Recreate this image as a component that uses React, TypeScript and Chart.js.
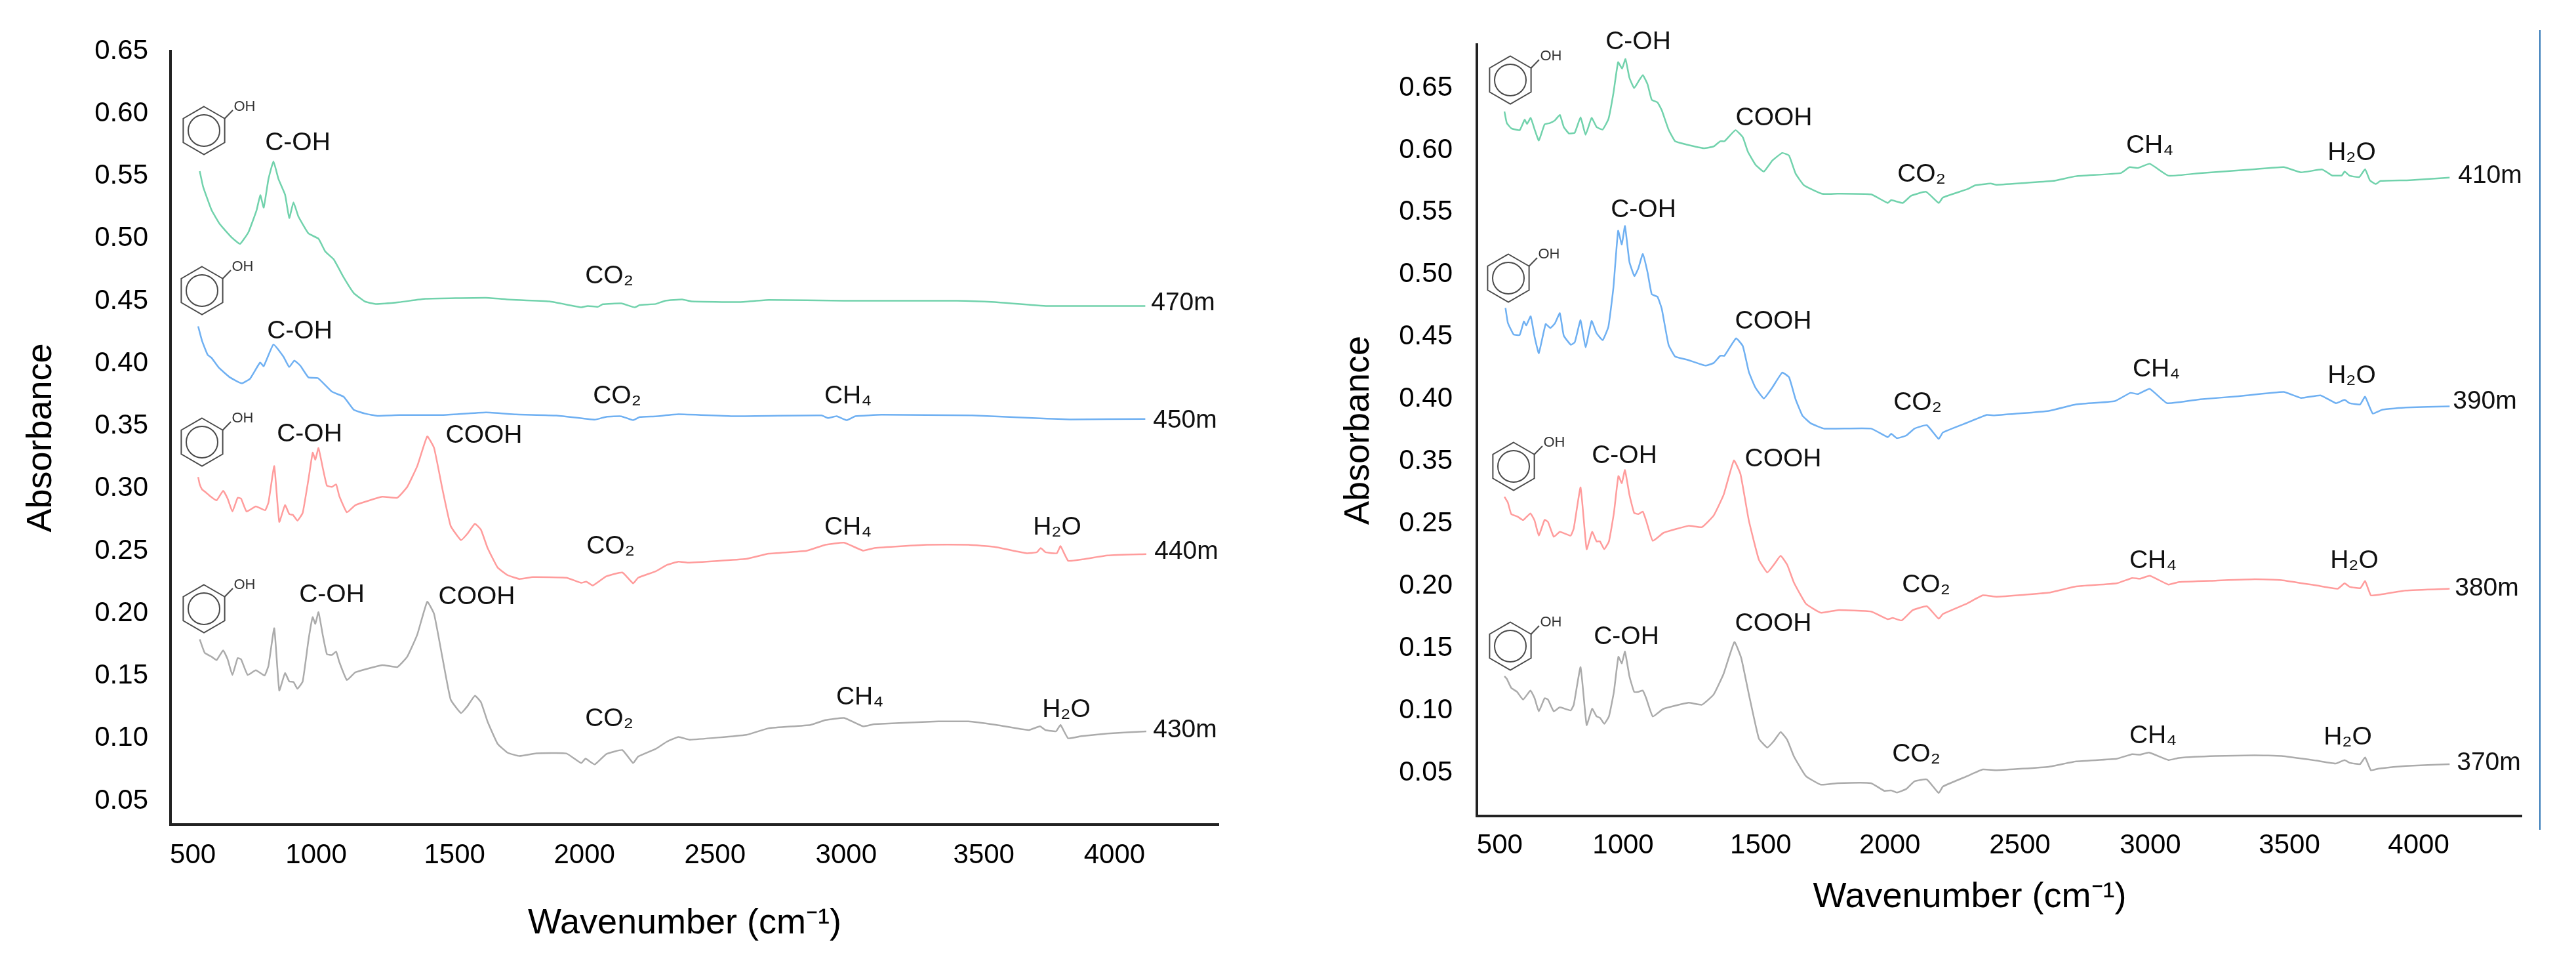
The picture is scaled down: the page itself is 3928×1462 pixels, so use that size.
import React, { useEffect, useRef } from "react";
import { Chart, registerables } from "chart.js";

Chart.register(...registerables);

const FONT = '"Liberation Sans", Arial, sans-serif';
const GREEN = "#71D2AC";
const BLUE = "#6FB0F2";
const RED = "#FF9C9C";
const GRAY = "#ABABAB";

// ---------- Left panel: wavenumber and absorbance ----------
const wn470 = [526,539,571,603,647,679,711,742,756,769,787,806,825,850,866,882,901,939,977,1003,1035,1073,1111,1155,1194,1283,1384,1613,1702,1854,1975,2000,2038,2057,2127,2178,2197,2258,2294,2358,2394,2573,2687,2973,3402,3545,3745,4117];
const abs470 = [.5523,.5398,.5212,.5098,.4994,.4942,.5035,.5212,.5332,.5232,.5461,.5602,.5461,.5336,.5149,.5274,.5160,.5025,.4983,.4880,.4817,.4672,.4548,.4479,.4461,.4475,.4502,.4510,.4496,.4481,.4434,.4445,.4438,.4459,.4465,.4434,.4452,.4461,.4487,.4497,.4481,.4476,.4493,.4487,.4487,.4476,.4445,.4445];

const wn450 = [520,535,556,571,599,641,685,717,755,769,806,844,866,885,908,939,975,1028,1073,1111,1155,1200,1283,1448,1613,1727,1880,2026,2070,2127,2172,2197,2258,2344,2544,2887,2912,2945,2983,3016,3116,3459,3688,3831,4117];
const abs450 = [.4282,.4164,.4054,.4029,.3950,.3873,.3826,.3863,.3992,.3963,.4137,.4039,.3956,.4008,.3967,.3873,.3867,.3759,.3718,.3614,.3583,.3566,.3572,.3572,.3593,.3577,.3568,.3535,.3558,.3562,.3531,.3556,.3562,.3578,.3563,.3569,.3548,.3563,.3531,.3563,.3574,.3569,.3548,.3537,.3541];

const wn440 = [520,526,535,548,565,590,615,632,650,670,683,704,739,774,787,809,828,850,866,880,897,917,939,955,965,977,993,1009,1028,1044,1056,1085,1117,1219,1276,1314,1352,1390,1416,1448,1479,1518,1543,1571,1594,1619,1657,1695,1740,1791,1918,1975,1994,2019,2070,2131,2172,2191,2258,2301,2344,2380,2602,2687,2830,2902,2973,3045,3088,3288,3445,3545,3667,3705,3720,3738,3781,3795,3824,3874,3974,4121];
const abs440 = [.3076,.3017,.2976,.2955,.2924,.2889,.2966,.2903,.2800,.2910,.2903,.2800,.2841,.2810,.2872,.3163,.2717,.2851,.2779,.2773,.2727,.2789,.3059,.3271,.3215,.3308,.3152,.3007,.2997,.3017,.2924,.2793,.2851,.2918,.2910,.2997,.3163,.3401,.3308,.2976,.2685,.2571,.2623,.2702,.2654,.2509,.2353,.2291,.2260,.2275,.2270,.2229,.2239,.2208,.2281,.2312,.2225,.2270,.2322,.2373,.2399,.2391,.2421,.2463,.2485,.2534,.2551,.2487,.2508,.2534,.2534,.2517,.2466,.2474,.2508,.2474,.2466,.2523,.2406,.2416,.2448,.2459];

const wn430 = [526,545,571,590,615,632,650,670,683,708,739,772,787,809,828,850,866,882,897,917,939,955,965,977,993,1009,1028,1044,1056,1085,1117,1219,1276,1314,1352,1390,1416,1448,1479,1518,1543,1571,1594,1619,1657,1695,1740,1804,1918,1975,1991,2026,2070,2131,2172,2191,2258,2301,2344,2387,2602,2687,2845,2902,2973,3045,3088,3331,3445,3545,3674,3717,3738,3778,3795,3824,3874,3974,4121];
const abs430 = [.1777,.1669,.1638,.1611,.1689,.1617,.1492,.1627,.1617,.1492,.1530,.1488,.1565,.1866,.1368,.1507,.1440,.1436,.1382,.1440,.1772,.1955,.1901,.1995,.1814,.1658,.1652,.1679,.1596,.1451,.1513,.1571,.1555,.1638,.1814,.2078,.1980,.1627,.1295,.1187,.1243,.1326,.1274,.1119,.0942,.0870,.0843,.0864,.0864,.0787,.0822,.0776,.0859,.0891,.0787,.0839,.0901,.0959,.0996,.0974,.1013,.1066,.1092,.1131,.1148,.1081,.1098,.1120,.1120,.1094,.1051,.1081,.1051,.1041,.1092,.0985,.1002,.1023,.1041];

// ---------- Right panel ----------
const wn410 = [518,527,544,576,595,604,618,633,649,671,691,710,729,744,764,786,808,827,850,869,892,914,933,951,966,979,994,1012,1028,1045,1063,1079,1101,1117,1143,1168,1213,1277,1315,1340,1356,1398,1426,1445,1474,1506,1538,1576,1602,1627,1659,1729,1787,1914,1978,1991,2035,2067,2124,2172,2188,2281,2311,2370,2392,2606,2695,2865,2899,2931,2976,3047,3168,3375,3486,3552,3633,3670,3707,3718,3737,3774,3796,3814,3836,3855,3966,4118];
const abs410 = [.6295,.6202,.6160,.6145,.6229,.6195,.6243,.6150,.6062,.6191,.6202,.6223,.6268,.6170,.6118,.6125,.6248,.6108,.6243,.6170,.6150,.6233,.6441,.6691,.6639,.6716,.6566,.6483,.6535,.6587,.6514,.6389,.6368,.6306,.6150,.6056,.6029,.6000,.6014,.6056,.6056,.6145,.6087,.5973,.5868,.5812,.5900,.5962,.5941,.5796,.5702,.5633,.5635,.5629,.5560,.5583,.5560,.5618,.5650,.5560,.5604,.5671,.5702,.5716,.5706,.5737,.5775,.5800,.5848,.5841,.5875,.5779,.5800,.5831,.5848,.5806,.5829,.5781,.5781,.5812,.5779,.5768,.5831,.5743,.5712,.5737,.5743,.5764];

const wn390 = [522,531,553,576,592,601,618,633,649,675,693,710,729,744,771,786,808,827,850,869,892,914,933,951,965,977,994,1013,1028,1045,1063,1079,1101,1117,1143,1168,1213,1283,1315,1340,1356,1400,1426,1449,1474,1506,1538,1576,1602,1627,1653,1685,1736,1914,1978,1991,2013,2048,2080,2127,2172,2188,2281,2355,2384,2591,2695,2843,2902,2931,2976,3042,3168,3316,3486,3552,3626,3685,3718,3737,3777,3796,3825,3862,3951,4118];
const abs390 = [.4717,.4598,.4504,.4500,.4608,.4577,.4650,.4483,.4354,.4587,.4556,.4592,.4675,.4494,.4421,.4442,.4619,.4400,.4612,.4514,.4458,.4567,.4879,.5337,.5227,.5375,.5087,.4973,.5035,.5150,.5004,.4827,.4806,.4712,.4421,.4327,.4302,.4254,.4275,.4333,.4333,.4473,.4410,.4202,.4077,.3990,.4077,.4198,.4160,.3983,.3852,.3790,.3748,.3748,.3679,.3706,.3671,.3692,.3748,.3775,.3665,.3717,.3796,.3858,.3854,.3890,.3942,.3969,.4035,.4025,.4067,.3952,.3983,.4008,.4042,.3994,.4015,.3952,.3979,.3952,.3942,.4004,.3869,.3900,.3917,.3927];

const wn380 = [518,531,544,569,589,617,633,649,671,684,706,729,770,782,808,831,852,869,882,898,916,935,952,965,977,994,1012,1028,1045,1058,1083,1124,1219,1270,1315,1353,1392,1417,1449,1487,1519,1544,1570,1595,1621,1666,1723,1787,1914,1978,1997,2031,2073,2127,2172,2188,2281,2340,2392,2591,2695,2850,2909,2939,2976,3047,3087,3227,3375,3478,3611,3692,3718,3737,3778,3796,3818,3848,3951,4118];
const abs380 = [.2900,.2808,.2622,.2580,.2526,.2634,.2516,.2388,.2530,.2498,.2379,.2419,.2388,.2446,.3050,.2279,.2419,.2342,.2342,.2279,.2342,.2642,.3234,.3120,.3330,.2934,.2642,.2622,.2662,.2516,.2346,.2411,.2467,.2456,.2600,.2934,.3484,.3266,.2516,.2196,.2092,.2154,.2227,.2154,.2009,.1842,.1769,.1790,.1779,.1717,.1727,.1707,.1790,.1821,.1721,.1759,.1844,.1909,.1898,.1930,.1980,.2005,.2048,.2042,.2066,.1995,.2016,.2027,.2038,.2031,.1988,.1962,.2005,.1977,.1967,.2023,.1909,.1913,.1947,.1962];

const wn370 = [518,527,544,566,589,617,633,649,671,684,706,729,770,782,808,831,852,869,882,898,916,935,952,965,977,994,1012,1028,1045,1058,1083,1124,1219,1270,1315,1353,1394,1420,1449,1487,1519,1544,1570,1595,1621,1666,1723,1787,1914,1965,1991,2013,2048,2080,2127,2172,2188,2281,2340,2392,2591,2695,2850,2909,2939,2973,3047,3087,3227,3375,3478,3611,3685,3718,3737,3777,3796,3818,3848,3951,4118];
const abs370 = [.1259,.1238,.1165,.1134,.1071,.1144,.1082,.0977,.1082,.1071,.0977,.1009,.0984,.1030,.1332,.0867,.0998,.0936,.0925,.0877,.0936,.1134,.1415,.1363,.1457,.1259,.1134,.1134,.1144,.1082,.0936,.0998,.1046,.1030,.1113,.1280,.1534,.1404,.1113,.0759,.0686,.0738,.0811,.0748,.0613,.0457,.0388,.0400,.0400,.0338,.0342,.0325,.0353,.0415,.0430,.0321,.0373,.0457,.0510,.0504,.0532,.0575,.0596,.0633,.0629,.0646,.0586,.0603,.0618,.0624,.0618,.0581,.0558,.0586,.0564,.0553,.0607,.0504,.0517,.0538,.0553];

// ---------- Tick labels ----------
const xTickLabels = ["500", "1000", "1500", "2000", "2500", "3000", "3500", "4000"];
// The hand-placed wavenumber labels are not evenly spaced in the source figure.
const xTickAtLeft = [500, 968, 1494, 1987, 2483, 2981, 3504, 4000];
const xTickAtRight = [500, 970, 1494, 1986, 2481, 2978, 3508, 4000];
const yTicksLeft = [.05,.10,.15,.20,.25,.30,.35,.40,.45,.50,.55,.60,.65];
// The right panel's printed axis has no 0.30: 0.25 is followed directly by 0.35.
const yTicksRight = [.05,.10,.15,.20,.25,.35,.40,.45,.50,.55,.60,.65];

// Position on the right panel's evenly spaced axis for a value.
const rightAxisPos = (v: number) => (v <= 0.25 ? v : v <= 0.35 ? 0.25 + (v - 0.25) / 2 : v - 0.05);

// ---------- Annotations: [text, page x, page y] ----------
const notesLeft: [string, number, number][] = [
  ["C-OH", 454, 218], ["CO₂", 929, 421], ["470m", 1804, 462],
  ["C-OH", 457, 505], ["CO₂", 941, 604], ["CH₄", 1293, 604], ["450m", 1807, 641],
  ["C-OH", 472, 662], ["COOH", 738, 664], ["CO₂", 931, 833], ["CH₄", 1293, 804], ["H₂O", 1612, 804], ["440m", 1809, 841],
  ["C-OH", 506, 907], ["COOH", 727, 910], ["CO₂", 929, 1096], ["CH₄", 1311, 1063], ["H₂O", 1626, 1082], ["430m", 1807, 1113],
];
const notesRight: [string, number, number][] = [
  ["C-OH", 2498, 64], ["COOH", 2705, 180], ["CO₂", 2930, 266], ["CH₄", 3278, 222], ["H₂O", 3586, 233], ["410m", 3797, 268],
  ["C-OH", 2506, 320], ["COOH", 2704, 490], ["CO₂", 2924, 614], ["CH₄", 3288, 563], ["H₂O", 3586, 573], ["390m", 3789, 612],
  ["C-OH", 2477, 695], ["COOH", 2719, 700], ["CO₂", 2937, 892], ["CH₄", 3283, 855], ["H₂O", 3590, 855], ["380m", 3792, 897],
  ["C-OH", 2480, 971], ["COOH", 2704, 951], ["CO₂", 2922, 1150], ["CH₄", 3283, 1122], ["H₂O", 3580, 1124], ["370m", 3795, 1163],
];
const phenolLeft: [number, number][] = [[311, 199], [308, 443], [308, 674], [311, 928]];
const phenolRight: [number, number][] = [[2303, 122], [2300, 424], [2308, 711], [2303, 985]];

type PanelDef = {
  offsetX: number; width: number;
  area: { left: number; right: number; top: number; bottom: number };
  padLeft: number; padBottom: number;
  xMin: number; xMax: number; yMin: number; yMax: number;
  xTickAt: number[]; xPad: number; yPad: number;
  yTickAt: number[]; yTickText: string[];
  xTitle: string;
  series: { label: string; color: string; xs: number[]; ys: number[] }[];
  notes: [string, number, number][]; phenols: [number, number][];
  rule?: { x: number; top: number; bottom: number };
};

const panels: PanelDef[] = [
  {
    offsetX: 0, width: 1950,
    area: { left: 260, right: 1858, top: 78, bottom: 1257 },
    padLeft: 31, padBottom: 21,
    xMin: 415, xMax: 4395, yMin: 0.0295, yMax: 0.6484,
    xTickAt: xTickAtLeft, xPad: 22, yPad: 34,
    yTickAt: yTicksLeft, yTickText: yTicksLeft.map((v) => v.toFixed(2)),
    xTitle: "Wavenumber (cm⁻¹)  ",
    series: [
      { label: "470m", color: GREEN, xs: wn470, ys: abs470 },
      { label: "450m", color: BLUE, xs: wn450, ys: abs450 },
      { label: "440m", color: RED, xs: wn440, ys: abs440 },
      { label: "430m", color: GRAY, xs: wn430, ys: abs430 },
    ],
    notes: notesLeft, phenols: phenolLeft,
  },
  {
    offsetX: 1950, width: 1978,
    area: { left: 302, right: 1895, top: 68, bottom: 1244 },
    padLeft: 90, padBottom: 61,
    xMin: 413, xMax: 4392, yMin: 0.01364, yMax: 0.6332,
    xTickAt: xTickAtRight, xPad: 20, yPad: 37,
    yTickAt: yTicksRight.map(rightAxisPos), yTickText: yTicksRight.map((v) => v.toFixed(2)),
    xTitle: "Wavenumber (cm⁻¹)      ",
    series: [
      { label: "410m", color: GREEN, xs: wn410, ys: abs410.map(rightAxisPos) },
      { label: "390m", color: BLUE, xs: wn390, ys: abs390.map(rightAxisPos) },
      { label: "380m", color: RED, xs: wn380, ys: abs380.map(rightAxisPos) },
      { label: "370m", color: GRAY, xs: wn370, ys: abs370.map(rightAxisPos) },
    ],
    notes: notesRight, phenols: phenolRight,
    rule: { x: 1923, top: 46, bottom: 1265 },
  },
];

function drawPhenol(ctx: CanvasRenderingContext2D, cx: number, cy: number) {
  const R = 36.5;
  ctx.save();
  ctx.strokeStyle = "#4a4a4a";
  ctx.lineWidth = 2;
  ctx.beginPath();
  for (let i = 0; i < 6; i++) {
    const a = -Math.PI / 2 + (i * Math.PI) / 3;
    const px = cx + R * Math.cos(a);
    const py = cy + R * Math.sin(a);
    if (i === 0) ctx.moveTo(px, py);
    else ctx.lineTo(px, py);
  }
  ctx.closePath();
  ctx.stroke();
  ctx.beginPath();
  ctx.arc(cx, cy, 24, 0, Math.PI * 2);
  ctx.stroke();
  ctx.beginPath();
  ctx.moveTo(cx + R * 0.866, cy - R * 0.5);
  ctx.lineTo(cx + 44, cy - 31);
  ctx.stroke();
  ctx.fillStyle = "#333";
  ctx.font = `22px ${FONT}`;
  ctx.textAlign = "center";
  ctx.textBaseline = "middle";
  ctx.fillText("OH", cx + 62, cy - 36);
  ctx.restore();
}

function Panel({ def }: { def: PanelDef }) {
  const ref = useRef<HTMLCanvasElement | null>(null);
  useEffect(() => {
    if (!ref.current) return;
    const a = def.area;
    const decor = {
      id: "decor",
      afterDraw(chart: any) {
        const ctx = chart.ctx as CanvasRenderingContext2D;
        ctx.save();
        ctx.fillStyle = "#111";
        ctx.font = `39px ${FONT}`;
        ctx.textAlign = "center";
        ctx.textBaseline = "middle";
        def.notes.forEach(([t, x, y]) => ctx.fillText(t, x - def.offsetX, y));
        def.phenols.forEach(([x, y]) => drawPhenol(ctx, x - def.offsetX, y));
        if (def.rule) {
          ctx.strokeStyle = "#2E75B6";
          ctx.lineWidth = 2;
          ctx.beginPath();
          ctx.moveTo(def.rule.x, def.rule.top);
          ctx.lineTo(def.rule.x, def.rule.bottom);
          ctx.stroke();
        }
        ctx.restore();
      },
    };
    const clearPad = (s: any) => {
      s.paddingLeft = s.paddingRight = s.paddingTop = s.paddingBottom = 0;
    };
    const chart = new Chart(ref.current, {
      type: "line",
      data: {
        datasets: def.series.map((s) => ({
          label: s.label,
          data: s.xs.map((x, i) => ({ x, y: s.ys[i] })),
          borderColor: s.color,
          backgroundColor: s.color,
          borderWidth: 2.5,
          pointRadius: 0,
          fill: false,
          tension: 0.12,
        })),
      },
      plugins: [decor],
      options: {
        responsive: false,
        animation: false,
        layout: { padding: { left: def.padLeft, right: def.width - a.right, top: a.top, bottom: def.padBottom } },
        plugins: { legend: { display: false }, tooltip: { enabled: false }, title: { display: false } },
        scales: {
          x: {
            type: "linear",
            min: def.xMin,
            max: def.xMax,
            grid: { display: false, drawTicks: false },
            border: { display: true, color: "#222", width: 4 },
            afterBuildTicks: (s: any) => { s.ticks = def.xTickAt.map((value) => ({ value })); },
            afterFit: (s: any) => { clearPad(s); s.height = 1462 - def.padBottom - a.bottom; },
            ticks: {
              autoSkip: false, maxRotation: 0, minRotation: 0, padding: def.xPad, color: "#000",
              font: { family: FONT, size: 42 },
              callback: (_v: any, i: number) => xTickLabels[i],
            },
            title: { display: true, text: def.xTitle, color: "#000", font: { family: FONT, size: 54 }, padding: 0 },
          },
          y: {
            type: "linear",
            min: def.yMin,
            max: def.yMax,
            grid: { display: false, drawTicks: false },
            border: { display: true, color: "#222", width: 4 },
            afterBuildTicks: (s: any) => { s.ticks = def.yTickAt.map((value) => ({ value })); },
            afterFit: (s: any) => { clearPad(s); s.width = a.left - def.padLeft; },
            ticks: {
              autoSkip: false, padding: def.yPad, color: "#000", labelOffset: 3,
              font: { family: FONT, size: 42 },
              callback: (_v: any, i: number) => def.yTickText[i],
            },
            title: { display: true, text: "Absorbance", color: "#000", font: { family: FONT, size: 54 }, padding: 0 },
          },
        },
      },
    } as any);
    return () => chart.destroy();
  }, [def]);
  return (
    <canvas
      ref={ref}
      width={def.width}
      height={1462}
      style={{ position: "absolute", left: def.offsetX, top: 0, width: def.width, height: 1462, display: "block" }}
    />
  );
}

export default function App() {
  return (
    <div style={{ position: "absolute", left: 0, top: 0, width: 3928, height: 1462, background: "#fff", overflow: "hidden" }}>
      {panels.map((d) => (
        <Panel key={d.offsetX} def={d} />
      ))}
    </div>
  );
}
